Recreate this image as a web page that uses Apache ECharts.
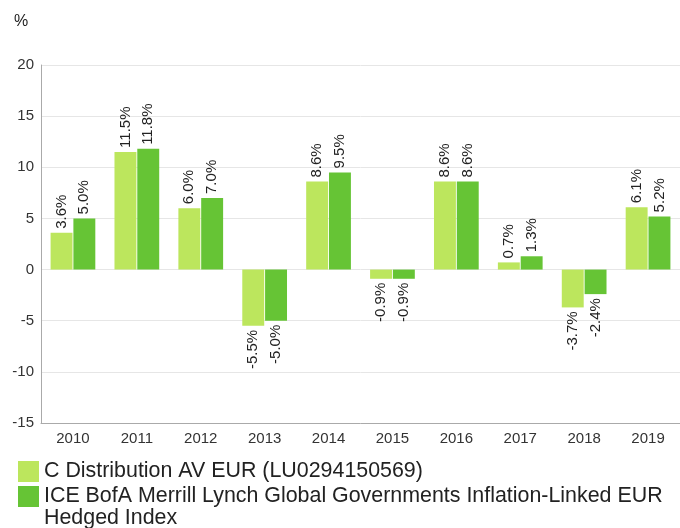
<!DOCTYPE html>
<html lang="en">
<head>
    <meta charset="UTF-8">
    <title>Annual performance</title>
    <script src="https://cdn.jsdelivr.net/npm/echarts@6/dist/echarts.min.js"></script>
    <style>
        html, body { margin: 0; padding: 0; background: #fff; }
        #chart { width: 680px; height: 528px; }
    </style>
</head>
<body>
<div id="chart"></div>

<script>
    const years = ['2010', '2011', '2012', '2013', '2014', '2015', '2016', '2017', '2018', '2019'];
    const fundName = 'C Distribution AV EUR (LU0294150569)';
    const indexName = 'ICE BofA Merrill Lynch Global Governments Inflation-Linked EUR Hedged Index';
    const fundValues = [3.6, 11.5, 6.0, -5.5, 8.6, -0.9, 8.6, 0.7, -3.7, 6.1];
    const indexValues = [5.0, 11.8, 7.0, -5.0, 9.5, -0.9, 8.6, 1.3, -2.4, 5.2];

    let chart = echarts.init(document.getElementById('chart'));

    // labels sit above positive bars, below negative ones, rotated upright
    function withLabels(values) {
        return values.map(v => ({
            value: v,
            label: v >= 0
                ? { position: 'top', align: 'left' }
                : { position: 'bottom', align: 'right' }
        }));
    }

    const labelStyle = {
        show: true,
        rotate: 90,
        verticalAlign: 'middle',
        distance: 4,
        fontSize: 15,
        color: '#222',
        formatter: p => p.value.toFixed(1) + '%'
    };

    chart.setOption({
        animation: false,
        textStyle: { fontFamily: 'Liberation Sans, Arial, sans-serif' },
        title: {
            text: '%',
            left: 9,
            top: 9,
            textStyle: { fontSize: 16, fontWeight: 'normal', color: '#222' }
        },
        grid: { left: 41, top: 65, width: 645, bottom: 105 },
        legend: {
            orient: 'vertical',
            left: 18,
            top: 461,
            height: 140,
            padding: 0,
            itemWidth: 21,
            itemHeight: 21,
            itemGap: 4,
            icon: 'rect',
            textStyle: {
                color: '#222',
                rich: { t: { fontSize: 21.4, lineHeight: 22, color: '#222' } }
            },
            data: [
                { name: fundName },
                // push the wrapped text down so its first line sits beside the swatch
                { name: indexName, textStyle: { padding: [22, 0, 0, 0] } }
            ],
            formatter: name => '{t|' + name.replace(' Hedged', '}\n{t|Hedged') + '}'
        },
        xAxis: {
            type: 'category',
            data: years,
            axisLine: { onZero: false, lineStyle: { color: '#aaa' } },
            axisTick: { show: false },
            axisLabel: { fontSize: 15, color: '#333', margin: 8 }
        },
        yAxis: {
            type: 'value',
            min: -15,
            max: 20,
            interval: 5,
            axisLine: { show: true, lineStyle: { color: '#aaa' } },
            axisTick: { show: false },
            axisLabel: { fontSize: 15, color: '#333', margin: 7 },
            splitLine: { lineStyle: { color: '#e6e6e6' } }
        },
        series: [
            {
                name: fundName,
                type: 'bar',
                barGap: '4%',
                barCategoryGap: '30%',
                itemStyle: { color: '#bce65d' },
                label: labelStyle,
                data: withLabels(fundValues)
            },
            {
                name: indexName,
                type: 'bar',
                itemStyle: { color: '#66c435' },
                label: labelStyle,
                data: withLabels(indexValues)
            }
        ]
    });
</script>
</body>
</html>
